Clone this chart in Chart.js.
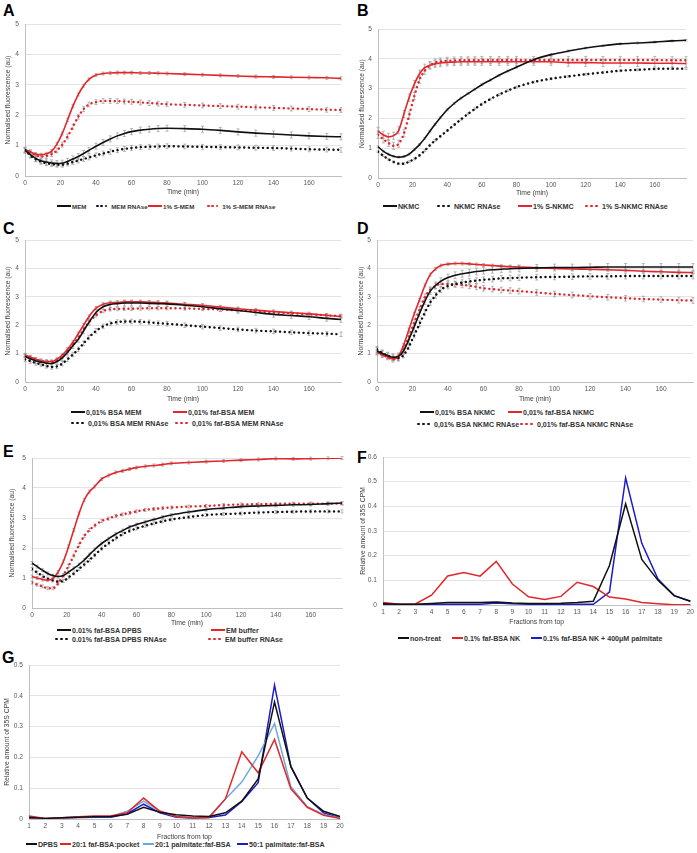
<!DOCTYPE html>
<html>
<head>
<meta charset="utf-8">
<script src="https://cdn.jsdelivr.net/npm/chart.js@4.4.1/dist/chart.umd.min.js"></script>
<style>
  body { margin: 0; background: #fff; width: 697px; height: 853px; position: relative; overflow: hidden;
         font-family: "Liberation Sans", Arial, sans-serif; }
  canvas { position: absolute; }
  .lbl { position: absolute; font-weight: bold; font-size: 16px; line-height: 16px; color: #000; }
  .leg { position: absolute; font-size: 7.1px; font-weight: bold; line-height: 8px; color: #333; white-space: nowrap; }
  .leg i { display: inline-block; width: 14px; height: 2px; vertical-align: middle; margin-right: 1px; position: relative; top: -1px; }
  .leg i.dots { height: 3px; width: auto; margin-right: 2px; }
  .leg i.dots b { display: inline-block; width: 2.6px; height: 2.6px; border-radius: 50%; margin-right: 2.4px; vertical-align: top; }
</style>
</head>
<body>
<div class="lbl" style="left:3px;top:3px">A</div>
<div class="lbl" style="left:357px;top:3px">B</div>
<div class="lbl" style="left:3px;top:221px">C</div>
<div class="lbl" style="left:357px;top:221px">D</div>
<div class="lbl" style="left:3px;top:444px">E</div>
<div class="lbl" style="left:357px;top:450px">F</div>
<div class="lbl" style="left:2px;top:650px">G</div>
<script>
// sampling times (min) shared by the kinetic panels A-E
const times = [0,3,6,9,12,15,18,21,24,27,30,33,36,40,44,48,52,56,60,65,70,75,80,90,100,110,120,130,140,150,160,170,178];

// A
const namesA = ['MEM', 'MEM RNAse', '1% S-MEM', '1% S-MEM RNAse'];
const memA       = [0.85,0.7,0.58,0.5,0.46,0.43,0.41,0.42,0.48,0.56,0.64,0.74,0.84,0.98,1.1,1.22,1.32,1.4,1.46,1.51,1.54,1.56,1.57,1.56,1.54,1.5,1.45,1.41,1.38,1.35,1.32,1.3,1.29];
const memRnaseA  = [0.85,0.68,0.55,0.47,0.42,0.39,0.37,0.37,0.41,0.46,0.51,0.56,0.61,0.68,0.74,0.8,0.85,0.89,0.92,0.95,0.96,0.97,0.98,0.97,0.96,0.95,0.94,0.93,0.92,0.9,0.88,0.87,0.86];
const smemA      = [0.87,0.8,0.72,0.7,0.73,0.82,1.05,1.4,1.85,2.3,2.68,2.97,3.18,3.32,3.37,3.39,3.4,3.4,3.4,3.39,3.39,3.38,3.37,3.35,3.33,3.31,3.29,3.27,3.26,3.25,3.24,3.23,3.21];
const smemRnaseA = [0.85,0.78,0.68,0.64,0.66,0.72,0.84,1.03,1.3,1.62,1.95,2.2,2.35,2.43,2.47,2.47,2.46,2.45,2.44,2.42,2.4,2.38,2.36,2.34,2.32,2.3,2.28,2.26,2.24,2.22,2.2,2.18,2.17];
const errA = [0.1, 0.08, 0.05, 0.08];

// B
const namesB = ['NKMC', 'NKMC RNAse', '1% S-NKMC', '1% S-NKMC RNAse'];
const nkmcB       = [1.05,0.9,0.8,0.73,0.7,0.72,0.8,0.95,1.12,1.33,1.57,1.8,2.02,2.29,2.5,2.68,2.83,2.98,3.13,3.29,3.45,3.59,3.72,3.97,4.14,4.26,4.36,4.44,4.5,4.53,4.56,4.6,4.62];
const nkmcRnaseB  = [0.88,0.75,0.63,0.54,0.48,0.48,0.55,0.64,0.76,0.92,1.1,1.26,1.4,1.59,1.78,1.97,2.15,2.32,2.48,2.65,2.8,2.93,3.05,3.22,3.33,3.41,3.48,3.54,3.6,3.63,3.66,3.67,3.67];
const snkmcB      = [1.58,1.45,1.38,1.42,1.6,2.15,2.7,3.15,3.5,3.7,3.78,3.83,3.86,3.88,3.89,3.9,3.9,3.9,3.9,3.9,3.9,3.9,3.9,3.9,3.9,3.87,3.87,3.86,3.86,3.86,3.85,3.85,3.84];
const snkmcRnaseB = [1.45,1.3,1.18,1.08,1.15,1.5,2.1,2.75,3.3,3.6,3.78,3.87,3.91,3.93,3.94,3.95,3.95,3.95,3.96,3.96,3.96,3.96,3.96,3.96,3.96,3.96,3.96,3.96,3.96,3.96,3.96,3.95,3.95];
const errB = [0.03, 0.03, 0.12, 0.12];

// C
const namesC = ['0,01% BSA MEM', '0,01% faf-BSA MEM', '0,01% BSA MEM RNAse', '0,01% faf-BSA MEM RNAse'];
const bsaMemC      = [0.9,0.82,0.75,0.7,0.66,0.65,0.72,0.85,1.05,1.28,1.5,1.8,2.1,2.45,2.65,2.73,2.76,2.78,2.78,2.78,2.77,2.76,2.75,2.7,2.65,2.58,2.52,2.45,2.38,2.34,2.3,2.24,2.2];
const fafMemC      = [0.95,0.88,0.8,0.74,0.72,0.72,0.8,0.95,1.15,1.4,1.7,2.0,2.3,2.6,2.74,2.79,2.8,2.82,2.82,2.82,2.81,2.8,2.78,2.74,2.7,2.64,2.58,2.53,2.48,2.44,2.4,2.35,2.3];
const bsaMemRnaseC = [0.8,0.74,0.67,0.62,0.57,0.53,0.55,0.65,0.8,0.97,1.15,1.36,1.57,1.8,1.96,2.06,2.11,2.13,2.13,2.12,2.1,2.07,2.05,2.0,1.95,1.9,1.85,1.81,1.78,1.75,1.72,1.7,1.68];
const fafMemRnaseC = [0.92,0.86,0.8,0.75,0.72,0.7,0.76,0.9,1.1,1.33,1.55,1.85,2.1,2.35,2.5,2.56,2.57,2.58,2.58,2.59,2.6,2.6,2.6,2.59,2.57,2.55,2.52,2.49,2.45,2.42,2.38,2.35,2.33];
const errC = [0.1, 0.06, 0.08, 0.06];

// D
const namesD = ['0,01% BSA NKMC', '0,01% faf-BSA NKMC', '0,01% BSA NKMC RNAse', '0,01% faf-BSA NKMC RNAse'];
const bsaNkD      = [1.1,1.0,0.93,0.87,0.9,1.1,1.5,1.95,2.42,2.85,3.2,3.4,3.55,3.68,3.76,3.81,3.85,3.89,3.92,3.95,3.97,3.99,4.0,4.02,4.03,4.03,4.04,4.05,4.05,4.05,4.05,4.05,4.05];
const fafNkD      = [1.05,0.95,0.88,0.81,0.9,1.3,1.85,2.4,2.9,3.4,3.78,3.98,4.1,4.15,4.17,4.17,4.16,4.14,4.12,4.1,4.08,4.06,4.05,4.02,4.0,3.98,3.97,3.95,3.93,3.9,3.88,3.86,3.85];
const bsaNkRnaseD = [1.15,1.02,0.93,0.86,0.84,0.95,1.25,1.65,2.05,2.45,2.8,3.05,3.25,3.38,3.45,3.5,3.54,3.57,3.6,3.62,3.65,3.66,3.67,3.69,3.7,3.71,3.72,3.72,3.73,3.73,3.73,3.73,3.73];
const fafNkRnaseD = [1.05,0.96,0.88,0.8,0.85,1.15,1.6,2.1,2.55,3.0,3.25,3.38,3.45,3.45,3.44,3.42,3.39,3.35,3.3,3.27,3.24,3.22,3.2,3.15,3.1,3.06,3.02,2.98,2.95,2.92,2.9,2.88,2.87];
const errD = [0.12, 0.05, 0.1, 0.1];

// E
const namesE = ['0.01% faf-BSA DPBS', 'EM buffer', '0.01% faf-BSA DPBS RNAse', 'EM buffer RNAse'];
const dpbsE      = [1.5,1.38,1.26,1.15,1.08,1.05,1.08,1.2,1.32,1.45,1.6,1.78,1.95,2.15,2.31,2.46,2.58,2.7,2.78,2.87,2.95,3.03,3.1,3.2,3.28,3.33,3.38,3.4,3.42,3.44,3.45,3.48,3.5];
const emE        = [1.05,1.0,0.95,0.93,0.98,1.2,1.55,2.05,2.6,3.15,3.6,3.88,4.05,4.3,4.42,4.52,4.57,4.63,4.68,4.72,4.75,4.78,4.82,4.85,4.88,4.9,4.93,4.95,4.98,4.97,4.98,4.99,5.0];
const dpbsRnaseE = [1.3,1.18,1.07,0.98,0.92,0.88,0.9,1.02,1.15,1.3,1.45,1.6,1.76,1.98,2.16,2.32,2.46,2.57,2.65,2.74,2.82,2.89,2.95,3.03,3.1,3.13,3.15,3.18,3.2,3.21,3.22,3.22,3.22];
const emRnaseE   = [0.85,0.78,0.72,0.66,0.66,0.82,1.1,1.4,1.75,2.1,2.4,2.6,2.75,2.9,2.98,3.07,3.12,3.17,3.22,3.27,3.3,3.33,3.35,3.38,3.4,3.43,3.45,3.46,3.47,3.48,3.48,3.48,3.48];
const errE = [0.05, 0.05, 0.05, 0.05];

// F and G: gradient fractions
const fractions = ['1','2','3','4','5','6','7','8','9','10','11','12','13','14','15','16','17','18','19','20'];
const namesF = ['non-treat', '0.1% faf-BSA NK', '0.1% faf-BSA NK + 400μM palmitate'];
const nonTreatF = [0.005,0.003,0.003,0.006,0.01,0.01,0.01,0.012,0.008,0.006,0.006,0.007,0.01,0.015,0.16,0.41,0.185,0.1,0.038,0.015];
const fafNkF    = [0.01,0.003,0.004,0.04,0.118,0.132,0.117,0.177,0.085,0.033,0.022,0.035,0.092,0.075,0.032,0.024,0.01,0.005,0.001,0.001];
const palmF     = [0.002,0.002,0.002,0.003,0.003,0.003,0.003,0.008,0.005,0.003,0.003,0.003,0.003,0.003,0.052,0.515,0.25,0.105,0.038,0.015];

const namesG = ['DPBS', '20:1 faf-BSA:pocket', '20:1 palmitate:faf-BSA', '50:1 palmitate:faf-BSA'];
const dpbsG    = [0.005,0.002,0.004,0.006,0.007,0.008,0.015,0.038,0.022,0.014,0.01,0.008,0.02,0.058,0.13,0.38,0.17,0.068,0.025,0.008];
const pocketG  = [0.01,0.002,0.004,0.007,0.01,0.01,0.02,0.068,0.025,0.008,0.003,0.005,0.065,0.218,0.15,0.258,0.098,0.038,0.012,0.002];
const palm20G  = [0.004,0.002,0.004,0.006,0.008,0.008,0.025,0.058,0.025,0.008,0.003,0.007,0.065,0.12,0.205,0.31,0.105,0.04,0.015,0.003];
const palm50G  = [0.002,0.001,0.003,0.005,0.006,0.006,0.017,0.048,0.02,0.006,0.003,0.005,0.013,0.057,0.118,0.435,0.17,0.068,0.02,0.003];

const BLACK = '#111111', RED = '#e3262b', BLUE = '#1c1cc8', LIGHTBLUE = '#6fa8dc';
const TICK = '#595959';
const FONT = '"Liberation Sans", Arial, sans-serif';

function timeSet(label, values, color, dotted, err) {
  return {
    label, err, dotted,
    data: values.map((v, i) => ({ x: times[i], y: v })),
    borderColor: color, backgroundColor: color,
    borderWidth: dotted ? 2.4 : 1.6,
    borderDash: dotted ? [0.1, 4.6] : [],
    borderCapStyle: dotted ? 'round' : 'butt',
    pointRadius: 0,
    cubicInterpolationMode: 'monotone'
  };
}
function fracSet(label, values, color) {
  return { label, data: values, borderColor: color, backgroundColor: color,
           borderWidth: 1.5, pointRadius: 0, tension: 0 };
}

// grey error bars at every sample, drawn under the curves
const errorBars = {
  id: 'errorBars',
  beforeDatasetsDraw(chart) {
    const ctx = chart.ctx, ys = chart.scales.y;
    ctx.save();
    ctx.strokeStyle = '#9a9a9a';
    ctx.lineWidth = 0.7;
    chart.data.datasets.forEach((ds, di) => {
      if (!ds.err) return;
      chart.getDatasetMeta(di).data.forEach((pt, i) => {
        const v = ds.data[i].y;
        const y1 = ys.getPixelForValue(v + ds.err), y2 = ys.getPixelForValue(v - ds.err);
        ctx.beginPath();
        ctx.moveTo(pt.x, y1); ctx.lineTo(pt.x, y2);
        ctx.moveTo(pt.x - 1.5, y1); ctx.lineTo(pt.x + 1.5, y1);
        ctx.moveTo(pt.x - 1.5, y2); ctx.lineTo(pt.x + 1.5, y2);
        ctx.stroke();
      });
    });
    ctx.restore();
  }
};

function makePanel(p) {
  const x = p.yTitleX - 4, y = p.plot.t - 12;
  const w = p.right - x, h = p.xTitleY + 4 - y;
  const cv = document.createElement('canvas');
  cv.width = w; cv.height = h;
  cv.style.left = x + 'px'; cv.style.top = y + 'px';
  cv.style.width = w + 'px'; cv.style.height = h + 'px';
  document.body.appendChild(cv);

  const tickFont = { family: FONT, size: 6.6 };
  const titleFont = { family: FONT, size: 6.8 };
  const xScale = p.category ? {
    type: 'category', offset: false,
    ticks: { font: tickFont, color: TICK, padding: 3, maxRotation: 0, autoSkip: false }
  } : {
    type: 'linear', min: 0, max: 178,
    ticks: { stepSize: 20, includeBounds: false, font: tickFont, color: TICK, padding: 3, maxRotation: 0 }
  };
  Object.assign(xScale, {
    grid: { display: false, drawTicks: false },
    border: { display: true, color: '#bfbfbf', width: 1 },
    title: { display: true, text: p.xTitle, font: titleFont, color: '#404040', padding: 0 },
    afterFit(s) { s.height = y + h - p.plot.b; }
  });

  new Chart(cv, {
    type: 'line',
    data: { labels: p.labels, datasets: p.datasets },
    plugins: p.category ? [] : [errorBars],
    options: {
      responsive: false, animation: false,
      layout: { padding: { left: 0, top: p.plot.t - y, right: x + w - p.plot.r, bottom: 0 } },
      plugins: { legend: { display: false }, tooltip: { enabled: false } },
      scales: {
        x: xScale,
        y: {
          min: 0, max: p.yMax,
          ticks: { stepSize: p.yStep, font: tickFont, color: TICK, padding: 6 },
          grid: { color: '#dcdcdc', drawTicks: false, lineWidth: 0.8 },
          border: { display: true, color: '#bfbfbf', width: 1 },
          title: { display: true, text: p.yTitle, font: titleFont, color: '#404040', padding: 0 },
          afterFit(s) { s.width = p.plot.l - x; }
        }
      }
    }
  });

  // legend, html
  p.datasets.forEach((ds, i) => {
    const [lx, ly] = p.legend[i];
    const d = document.createElement('div');
    d.className = 'leg';
    d.style.left = lx + 'px';
    d.style.top = (ly - 4) + 'px';
    if (p.legendSize) d.style.fontSize = p.legendSize + 'px';
    const sw = document.createElement('i');
    if (ds.dotted) {
      sw.className = 'dots';
      for (let k = 0; k < 3; k++) {
        const b = document.createElement('b');
        b.style.background = ds.borderColor;
        if (p.legendSize) b.style.marginRight = '1.8px';
        sw.appendChild(b);
      }
    } else {
      sw.style.background = ds.borderColor;
      if (p.category) sw.style.width = '11px';
    }
    d.appendChild(sw);
    d.appendChild(document.createTextNode(ds.label));
    document.body.appendChild(d);
  });
}

const timeTitle = 'Time (min)', fluoTitle = 'Normalised fluorescence (au)';

makePanel({
  plot: { l: 25, t: 24, r: 341, b: 176 }, yTitleX: 8, xTitleY: 192, right: 348,
  yMax: 5, yStep: 1, xTitle: timeTitle, yTitle: fluoTitle, legendSize: 6.2,
  datasets: [timeSet(namesA[0], memA, BLACK, false, errA[0]), timeSet(namesA[1], memRnaseA, BLACK, true, errA[1]),
             timeSet(namesA[2], smemA, RED, false, errA[2]), timeSet(namesA[3], smemRnaseA, RED, true, errA[3])],
  legend: [[57, 207], [96, 207], [148, 207], [207, 207]]
});
makePanel({
  plot: { l: 378, t: 29, r: 686, b: 178 }, yTitleX: 362, xTitleY: 193, right: 697,
  yMax: 5, yStep: 1, xTitle: timeTitle, yTitle: fluoTitle,
  datasets: [timeSet(namesB[0], nkmcB, BLACK, false, errB[0]), timeSet(namesB[1], nkmcRnaseB, BLACK, true, errB[1]),
             timeSet(namesB[2], snkmcB, RED, false, errB[2]), timeSet(namesB[3], snkmcRnaseB, RED, true, errB[3])],
  legend: [[383, 207], [437, 207], [518, 207], [585, 207]]
});
makePanel({
  plot: { l: 25, t: 240, r: 341, b: 382 }, yTitleX: 8, xTitleY: 399, right: 348,
  yMax: 5, yStep: 1, xTitle: timeTitle, yTitle: fluoTitle,
  datasets: [timeSet(namesC[0], bsaMemC, BLACK, false, errC[0]), timeSet(namesC[1], fafMemC, RED, false, errC[1]),
             timeSet(namesC[2], bsaMemRnaseC, BLACK, true, errC[2]), timeSet(namesC[3], fafMemRnaseC, RED, true, errC[3])],
  legend: [[71, 413], [173, 413], [71, 424], [175, 424]]
});
makePanel({
  plot: { l: 377, t: 240, r: 693, b: 382 }, yTitleX: 361, xTitleY: 399, right: 697,
  yMax: 5, yStep: 1, xTitle: timeTitle, yTitle: fluoTitle,
  datasets: [timeSet(namesD[0], bsaNkD, BLACK, false, errD[0]), timeSet(namesD[1], fafNkD, RED, false, errD[1]),
             timeSet(namesD[2], bsaNkRnaseD, BLACK, true, errD[2]), timeSet(namesD[3], fafNkRnaseD, RED, true, errD[3])],
  legend: [[420, 413], [508, 413], [417, 425], [520, 425]]
});
makePanel({
  plot: { l: 32, t: 458, r: 342, b: 608 }, yTitleX: 12, xTitleY: 623, right: 348,
  yMax: 5, yStep: 1, xTitle: timeTitle, yTitle: fluoTitle,
  datasets: [timeSet(namesE[0], dpbsE, BLACK, false, errE[0]), timeSet(namesE[1], emE, RED, false, errE[1]),
             timeSet(namesE[2], dpbsRnaseE, BLACK, true, errE[2]), timeSet(namesE[3], emRnaseE, RED, true, errE[3])],
  legend: [[57, 631], [211, 631], [55, 640], [208, 640]]
});
makePanel({
  plot: { l: 383, t: 457, r: 692, b: 605 }, yTitleX: 363, xTitleY: 622, right: 697, category: true,
  labels: fractions, yMax: 0.6, yStep: 0.1, xTitle: 'Fractions from top', yTitle: 'Relative amount of 35S CPM',
  datasets: [fracSet(namesF[0], nonTreatF, BLACK), fracSet(namesF[1], fafNkF, RED), fracSet(namesF[2], palmF, BLUE)],
  legend: [[398, 639], [452, 639], [531, 639]]
});
makePanel({
  plot: { l: 29, t: 665, r: 340, b: 819 }, yTitleX: 7, xTitleY: 837, right: 348, category: true,
  labels: fractions, yMax: 0.5, yStep: 0.1, xTitle: 'Fractions from top', yTitle: 'Relative amount of 35S CPM',
  datasets: [fracSet(namesG[0], dpbsG, BLACK), fracSet(namesG[1], pocketG, RED),
             fracSet(namesG[2], palm20G, LIGHTBLUE), fracSet(namesG[3], palm50G, BLUE)],
  legend: [[26, 845], [60, 845], [143, 845], [237, 845]]
});
</script>
</body>
</html>
